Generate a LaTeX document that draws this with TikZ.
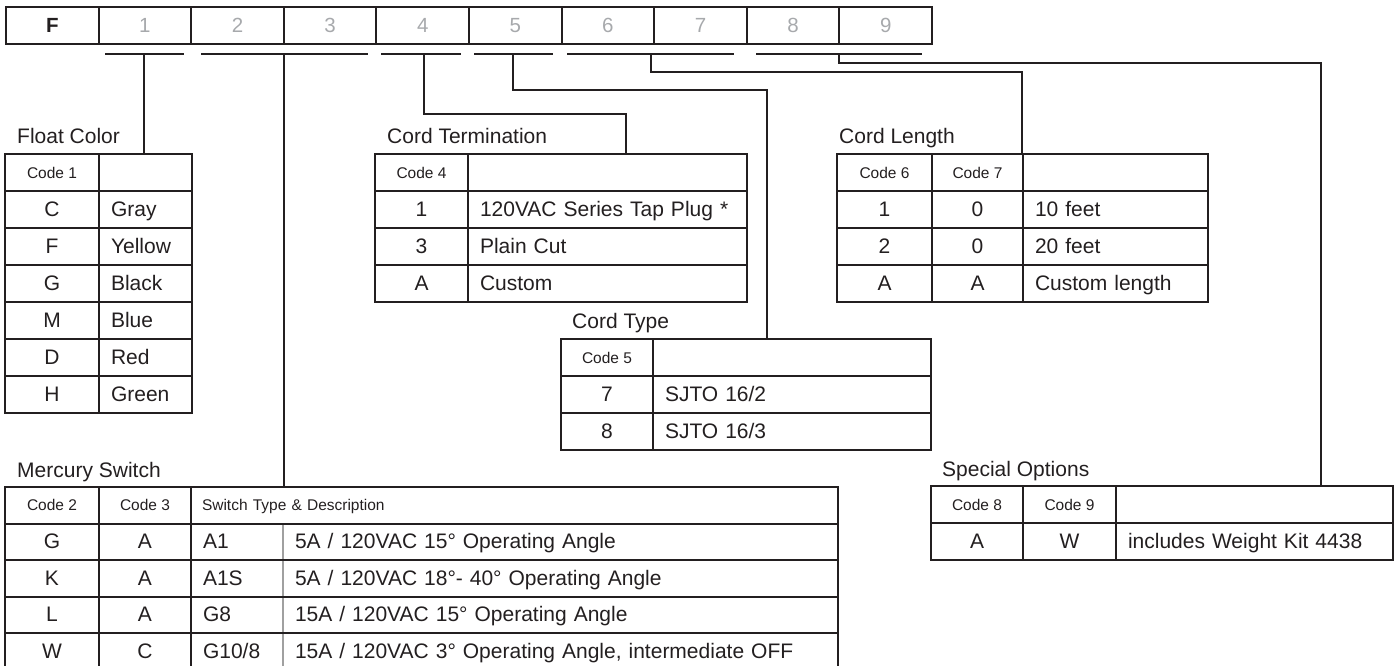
\documentclass[tikz,border=0pt]{standalone}
\usepackage{fontspec}
\setmainfont{Liberation Sans}
\definecolor{ink}{HTML}{231F20}
\definecolor{digit}{HTML}{A7A9AC}
\definecolor{sepgray}{HTML}{A0A0A0}
\newcommand\datafont{\fontsize{21}{25}\selectfont}
\newcommand\hdrfont{\fontsize{15.5}{18}\selectfont}
\newcommand\lblfont{\fontsize{21}{25}\selectfont}
\newcommand\barfont{\fontsize{20.5}{24}\selectfont}
\begin{document}
\begin{tikzpicture}[x=1pt,y=-1pt,
  cell/.style={draw=ink, line width=2pt, inner sep=0pt, outer sep=0pt, anchor=north west,
    minimum height=37pt, text=ink, font=\datafont, text height=15pt, text depth=2pt},
  lcell/.style={cell, align=left, inner xsep=12pt, text width=#1},
  hcell/.style={cell, font=\hdrfont, text height=11.2pt, text depth=0pt},
  barcell/.style={cell, minimum width=92.6pt, font=\barfont, text=digit, text height=14.7pt, text depth=0pt},
  lbl/.style={anchor=base west, inner sep=0pt, font=\lblfont, text=ink},
  uline/.style={draw=ink, line width=2.2pt},
  conn/.style={draw=ink, line width=2pt},
  border/.style={draw=ink, line width=2pt},
  sepl/.style={draw=sepgray, line width=1.6pt}]
\useasboundingbox (0,0) rectangle (1398,666);

% ---- code bar
\node[barcell, font=\barfont\bfseries, text=ink] (b0) at (6,7) {F};
\foreach \i in {1,...,9} \node[barcell] (b\i) at ({6+92.6*\i},7) {\i};

% ---- underlines
\draw[uline] (105,54) -- (184,54);
\draw[uline] (201,54) -- (368,54);
\draw[uline] (381,54) -- (461,54);
\draw[uline] (474,54) -- (553,54);
\draw[uline] (567,54) -- (734,54);
\draw[uline] (756,54) -- (922,54);
\coordinate (u1) at (144,54);
\coordinate (u23) at (284,54);
\coordinate (u4) at (424,54);
\coordinate (u5) at (513,54);
\coordinate (u67) at (651,54);
\coordinate (u89) at (839,54);

% ---- Float Color
\node[lbl] (fcL) at (17,144) {Float Color};
\node[hcell, minimum width=94pt] (fc-h1) at (5,154) {Code 1};
\node[hcell, minimum width=93pt] (fc-h2) at (99,154) {};
\node[cell, minimum width=94pt] (fc-c1) at (5,191) {C};
\node[lcell=69pt] (fc-d1) at (99,191) {Gray};
\node[cell, minimum width=94pt] (fc-c2) at (5,228) {F};
\node[lcell=69pt] (fc-d2) at (99,228) {Yellow};
\node[cell, minimum width=94pt] (fc-c3) at (5,265) {G};
\node[lcell=69pt] (fc-d3) at (99,265) {Black};
\node[cell, minimum width=94pt] (fc-c4) at (5,302) {M};
\node[lcell=69pt] (fc-d4) at (99,302) {Blue};
\node[cell, minimum width=94pt] (fc-c5) at (5,339) {D};
\node[lcell=69pt] (fc-d5) at (99,339) {Red};
\node[cell, minimum width=94pt] (fc-c6) at (5,376) {H};
\node[lcell=69pt] (fc-d6) at (99,376) {Green};

% ---- Cord Termination
\node[lbl] (ctL) at (387,144) {Cord Termination};
\node[hcell, minimum width=93pt] (ct-h1) at (375,154) {Code 4};
\node[hcell, minimum width=279pt] (ct-h2) at (468,154) {};
\node[cell, minimum width=93pt] (ct-c1) at (375,191) {1};
\node[lcell=255pt] (ct-d1) at (468,191) {120VAC Series Tap Plug *};
\node[cell, minimum width=93pt] (ct-c2) at (375,228) {3};
\node[lcell=255pt] (ct-d2) at (468,228) {Plain Cut};
\node[cell, minimum width=93pt] (ct-c3) at (375,265) {A};
\node[lcell=255pt] (ct-d3) at (468,265) {Custom};

% ---- Cord Type
\node[lbl] (cyL) at (572,328) {Cord Type};
\node[hcell, minimum width=92pt] (cy-h1) at (561,339) {Code 5};
\node[hcell, minimum width=278pt] (cy-h2) at (653,339) {};
\node[cell, minimum width=92pt] (cy-c1) at (561,376) {7};
\node[lcell=254pt] (cy-d1) at (653,376) {SJTO 16/2};
\node[cell, minimum width=92pt] (cy-c2) at (561,413) {8};
\node[lcell=254pt] (cy-d2) at (653,413) {SJTO 16/3};

% ---- Cord Length
\node[lbl] (clL) at (839,144) {Cord Length};
\node[hcell, minimum width=95pt] (cl-h1) at (837,154) {Code 6};
\node[hcell, minimum width=91pt] (cl-h2) at (932,154) {Code 7};
\node[hcell, minimum width=185pt] (cl-h3) at (1023,154) {};
\node[cell, minimum width=95pt] (cl-a1) at (837,191) {1};
\node[cell, minimum width=91pt] (cl-b1) at (932,191) {0};
\node[lcell=161pt] (cl-d1) at (1023,191) {10 feet};
\node[cell, minimum width=95pt] (cl-a2) at (837,228) {2};
\node[cell, minimum width=91pt] (cl-b2) at (932,228) {0};
\node[lcell=161pt] (cl-d2) at (1023,228) {20 feet};
\node[cell, minimum width=95pt] (cl-a3) at (837,265) {A};
\node[cell, minimum width=91pt] (cl-b3) at (932,265) {A};
\node[lcell=161pt] (cl-d3) at (1023,265) {Custom length};

% ---- Mercury Switch
\node[lbl] (msL) at (17,477) {Mercury Switch};
\node[hcell, minimum width=94pt, minimum height=36.6pt] (ms-h1) at (5,487) {Code 2};
\node[hcell, minimum width=92pt, minimum height=36.6pt] (ms-h2) at (99,487) {Code 3};
\node[lcell=625pt, inner xsep=11pt, font=\hdrfont, text height=11.2pt, text depth=0pt, minimum height=36.6pt] (ms-h3) at (191,487) {Switch Type \& Description};
\foreach \i/\y/\a/\b/\t/\d in {
  1/523.6/G/A/A1/{5A / 120VAC 15° Operating Angle},
  2/560.2/K/A/A1S/{5A / 120VAC 18°- 40° Operating Angle},
  3/596.8/L/A/G8/{15A / 120VAC 15° Operating Angle},
  4/633.4/W/C/{G10/8}/{15A / 120VAC 3° Operating Angle, intermediate OFF}} {
  \node[cell, minimum width=94pt, minimum height=36.6pt] (ms-a\i) at (5,\y) {\a};
  \node[cell, minimum width=92pt, minimum height=36.6pt] (ms-b\i) at (99,\y) {\b};
  \node[lcell=68pt, draw=none, minimum height=36.6pt] (ms-t\i) at (191,\y) {\t};
  \node[lcell=531pt, draw=none, minimum height=36.6pt] (ms-d\i) at (283,\y) {\d};
  \draw[sepl] (ms-t\i.north east) -- (ms-t\i.south east);
  \draw[border] (ms-t\i.north west) rectangle (ms-d\i.south east);
}

% ---- Special Options
\node[lbl] (soL) at (942,476) {Special Options};
\node[hcell, minimum width=92pt] (so-h1) at (931,486) {Code 8};
\node[hcell, minimum width=93pt] (so-h2) at (1023,486) {Code 9};
\node[hcell, minimum width=277pt] (so-h3) at (1116,486) {};
\node[cell, minimum width=92pt] (so-a1) at (931,523) {A};
\node[cell, minimum width=93pt] (so-b1) at (1023,523) {W};
\node[lcell=253pt] (so-d1) at (1116,523) {includes Weight Kit 4438};

% ---- connectors
\coordinate (k4) at (626,114);
\coordinate (k5) at (767,90);
\coordinate (k67) at (1022,72);
\coordinate (k89) at (1321,63);
\draw[conn] (u1) -- (u1 |- fc-h2.north);
\draw[conn] (u23) -- (u23 |- ms-h3.north);
\draw[conn] (u4) |- (k4) -- (k4 |- ct-h2.north);
\draw[conn] (u5) |- (k5) -- (k5 |- cy-h2.north);
\draw[conn] (u67) |- (k67) -- (k67 |- cl-h3.north);
\draw[conn] (u89) |- (k89) -- (k89 |- so-h3.north);
\end{tikzpicture}
\end{document}
